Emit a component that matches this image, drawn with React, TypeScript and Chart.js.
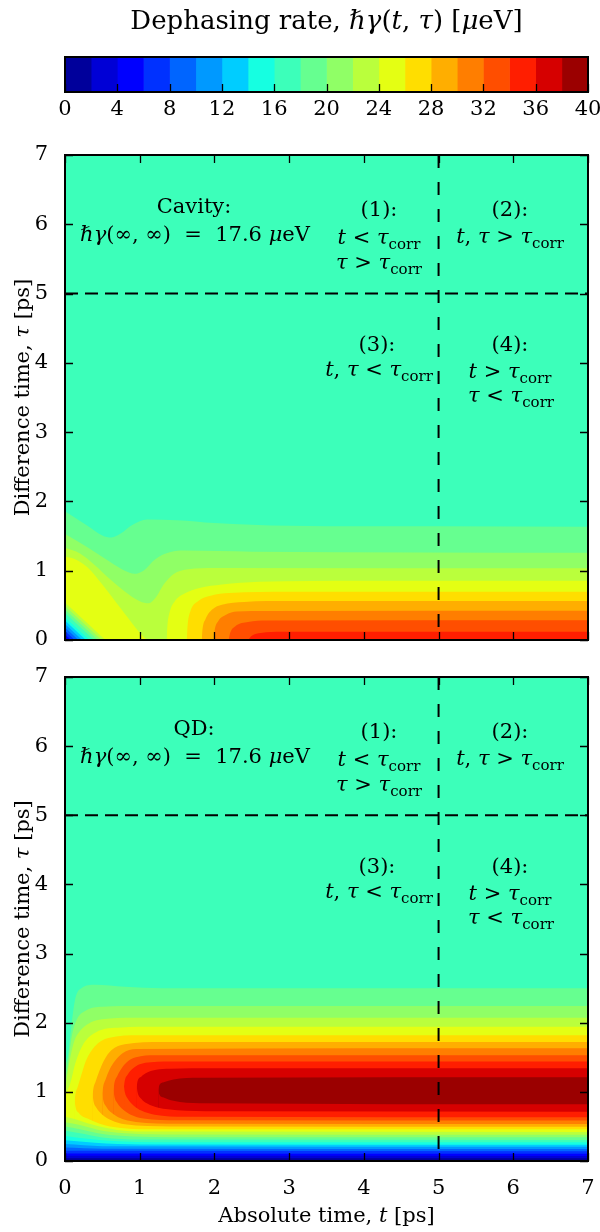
import React, { useEffect, useRef } from 'react';
import { Chart, registerables } from 'chart.js';

Chart.register(...registerables);

type Pt = [number, number];

const FONT = '"DejaVu Serif", "Liberation Serif", serif';

// ---------------- data ----------------
// contour levels of the dephasing rate (µeV)
const levels = [0, 2, 4, 6, 8, 10, 12, 14, 16, 18, 20, 22, 24, 26, 28, 30, 32, 34, 36, 38, 40];
const colorbarTicks = [0, 4, 8, 12, 16, 20, 24, 28, 32, 36, 40];
const timeTicks = [0, 1, 2, 3, 4, 5, 6, 7];
const tauTicks = [0, 1, 2, 3, 4, 5, 6, 7];
const tauCorr = 5;
const gammaInfinity = 17.6;

// Cavity: contour lines (t, tau) bounding the region with value >= level
const cavUp18: Pt[] = [[0, 1.86], [0.3, 1.65], [0.5, 1.51], [0.62, 1.48], [0.75, 1.54], [0.9, 1.66], [1.1, 1.74], [1.5, 1.73], [2, 1.69], [3, 1.65], [5, 1.64], [7, 1.635]];
const cavUp20: Pt[] = [[0, 1.53], [0.3, 1.34], [0.6, 1.13], [0.8, 1.0], [0.93, 0.955], [1.05, 1.0], [1.2, 1.16], [1.35, 1.25], [1.6, 1.29], [2.5, 1.275], [7, 1.26]];
const cavUp22: Pt[] = [[0, 1.33], [0.2, 1.25], [0.4, 1.08], [0.6, 0.88], [0.8, 0.7], [1.0, 0.56], [1.12, 0.53], [1.22, 0.62], [1.32, 0.8], [1.45, 0.95], [1.65, 1.02], [2, 1.04], [7, 1.034]];
const cavUp24a: Pt[] = [[0, 1.2], [0.15, 1.16], [0.3, 1.05], [0.5, 0.8], [0.75, 0.45], [0.95, 0.17], [1.04, 0.06], [1.1, 0]];
const cavUp24b: Pt[] = [[1.36, 0], [1.37, 0.2], [1.4, 0.4], [1.47, 0.56], [1.6, 0.67], [1.8, 0.75], [2.1, 0.8], [2.6, 0.84], [4, 0.855], [7, 0.856]];
const cavUp26: Pt[] = [[1.63, 0], [1.64, 0.2], [1.68, 0.42], [1.78, 0.56], [1.95, 0.64], [2.2, 0.68], [3, 0.695], [7, 0.697]];
const cavUp28: Pt[] = [[1.83, 0], [1.84, 0.15], [1.88, 0.3], [1.97, 0.44], [2.1, 0.51], [2.4, 0.55], [3, 0.562], [7, 0.563]];
const cavUp30: Pt[] = [[1.99, 0], [2.0, 0.12], [2.05, 0.27], [2.15, 0.36], [2.3, 0.41], [2.7, 0.42], [7, 0.423]];
const cavUp32: Pt[] = [[2.19, 0], [2.21, 0.1], [2.28, 0.2], [2.45, 0.26], [2.7, 0.28], [7, 0.284]];
const cavUp34: Pt[] = [[2.45, 0], [2.5, 0.06], [2.62, 0.1], [2.9, 0.118], [7, 0.12]];
// Cavity: corner fan, level and where its straight contour meets both axes (ps)
const cavFanLevels = [24, 22, 20, 18, 16, 14, 12, 10, 8, 6, 4];
const cavFanReach = [0.54, 0.49, 0.44, 0.39, 0.33, 0.28, 0.23, 0.18, 0.13, 0.08, 0.03];

// QD: upper branches (region below them has value >= level)
const qdUp18: Pt[] = [[0, 1.38], [0.04, 1.52], [0.09, 2.0], [0.14, 2.36], [0.22, 2.5], [0.4, 2.55], [0.8, 2.52], [1.3, 2.5], [7, 2.5]];
const qdUp20: Pt[] = [[0, 1.17], [0.04, 1.4], [0.09, 1.8], [0.16, 2.05], [0.27, 2.17], [0.5, 2.23], [1.0, 2.24], [7, 2.24]];
const qdUp22: Pt[] = [[0, 1.02], [0.05, 1.38], [0.12, 1.72], [0.2, 1.88], [0.32, 1.99], [0.6, 2.06], [1.0, 2.07], [7, 2.07]];
const qdUp24: Pt[] = [[0, 0.95], [0.07, 1.12], [0.14, 1.42], [0.25, 1.7], [0.41, 1.86], [0.75, 1.93], [1.2, 1.94], [7, 1.94]];
const qdUp26: Pt[] = [[0.13, 0.88], [0.14, 0.97], [0.17, 1.07], [0.22, 1.25], [0.28, 1.45], [0.4, 1.66], [0.58, 1.78], [1.0, 1.82], [7, 1.82]];
const qdUp28: Pt[] = [[0.37, 0.96], [0.38, 1.05], [0.41, 1.15], [0.46, 1.3], [0.52, 1.45], [0.62, 1.6], [0.8, 1.69], [1.3, 1.72], [7, 1.72]];
const qdUp30: Pt[] = [[0.5, 0.98], [0.51, 1.07], [0.54, 1.17], [0.6, 1.33], [0.67, 1.45], [0.77, 1.56], [0.95, 1.62], [7, 1.63]];
const qdUp32: Pt[] = [[0.65, 1.03], [0.66, 1.12], [0.7, 1.23], [0.77, 1.36], [0.85, 1.45], [0.95, 1.5], [1.2, 1.53], [7, 1.53]];
const qdUp34: Pt[] = [[0.79, 1.08], [0.8, 1.16], [0.84, 1.25], [0.9, 1.33], [1.0, 1.4], [1.15, 1.43], [1.5, 1.44], [7, 1.44]];
const qdUp36: Pt[] = [[0.96, 1.08], [0.97, 1.15], [1.02, 1.22], [1.1, 1.28], [1.22, 1.32], [1.4, 1.335], [2, 1.34], [7, 1.34]];
const qdUp38: Pt[] = [[1.25, 1.03], [1.26, 1.09], [1.32, 1.14], [1.45, 1.18], [1.8, 1.205], [7, 1.21]];
// QD: lower branches (region below them has value < level)
const qdLo38: Pt[] = [[1.25, 1.03], [1.26, 0.97], [1.32, 0.92], [1.45, 0.87], [1.8, 0.835], [7, 0.82]];
const qdLo36: Pt[] = [[0.96, 1.08], [0.97, 1.0], [1.02, 0.9], [1.1, 0.83], [1.25, 0.77], [1.5, 0.735], [2, 0.72], [7, 0.714]];
const qdLo34: Pt[] = [[0.79, 1.08], [0.8, 1.0], [0.84, 0.9], [0.92, 0.8], [1.02, 0.73], [1.2, 0.67], [1.6, 0.64], [7, 0.632]];
const qdLo32: Pt[] = [[0.65, 1.03], [0.66, 0.94], [0.7, 0.84], [0.78, 0.74], [0.88, 0.67], [1.05, 0.615], [1.5, 0.59], [7, 0.584]];
const qdLo30: Pt[] = [[0.5, 0.98], [0.51, 0.89], [0.55, 0.79], [0.62, 0.7], [0.72, 0.63], [0.95, 0.565], [1.5, 0.54], [7, 0.535]];
const qdLo28: Pt[] = [[0.37, 0.96], [0.38, 0.87], [0.42, 0.77], [0.5, 0.67], [0.62, 0.59], [0.8, 0.53], [1.4, 0.5], [7, 0.497]];
const qdLo26: Pt[] = [[0.13, 0.88], [0.14, 0.79], [0.18, 0.7], [0.33, 0.6], [0.6, 0.5], [1.2, 0.46], [7, 0.458]];
const qdLo24: Pt[] = [[0, 0.64], [0.15, 0.6], [0.35, 0.53], [0.7, 0.45], [1.2, 0.425], [7, 0.419]];
const qdLo22: Pt[] = [[0, 0.56], [0.2, 0.52], [0.45, 0.45], [0.8, 0.4], [1.3, 0.385], [7, 0.381]];
const qdLo20: Pt[] = [[0, 0.5], [0.2, 0.46], [0.5, 0.39], [0.9, 0.355], [1.4, 0.345], [7, 0.342]];
const qdLo18: Pt[] = [[0, 0.44], [0.2, 0.4], [0.5, 0.34], [1.0, 0.31], [7, 0.304]];
const qdLo16: Pt[] = [[0, 0.36], [0.3, 0.32], [0.7, 0.285], [1.2, 0.272], [7, 0.27]];
const qdLo14: Pt[] = [[0, 0.3], [0.4, 0.265], [1.0, 0.24], [7, 0.236]];
const qdLo12: Pt[] = [[0, 0.245], [0.5, 0.215], [7, 0.207]];
const qdLo10: Pt[] = [[0, 0.195], [0.5, 0.178], [7, 0.174]];
const qdLo8: Pt[] = [[0, 0.15], [7, 0.14]];
const qdLo6: Pt[] = [[0, 0.11], [7, 0.106]];
const qdLo4: Pt[] = [[0, 0.075], [7, 0.072]];
const qdLo2: Pt[] = [[0, 0.04], [7, 0.039]];

// ---------------- colour map (matplotlib jet) ----------------
const JET_R: Pt[] = [[0, 0], [0.35, 0], [0.66, 1], [0.89, 1], [1, 0.5]];
const JET_G: Pt[] = [[0, 0], [0.125, 0], [0.375, 1], [0.64, 1], [0.91, 0], [1, 0]];
const JET_B: Pt[] = [[0, 0.5], [0.11, 1], [0.34, 1], [0.65, 0], [1, 0]];
function chan(p: Pt[], v: number) {
  for (let i = 1; i < p.length; i++) {
    if (v <= p[i][0]) {
      const [x0, y0] = p[i - 1];
      const [x1, y1] = p[i];
      return y0 + ((v - x0) / (x1 - x0)) * (y1 - y0);
    }
  }
  return p[p.length - 1][1];
}
function jet(x: number) {
  const i = Math.min(255, Math.max(0, Math.floor(x * 256)));
  const v = i / 255;
  const c = (p: Pt[]) => Math.round(255 * chan(p, v));
  return `rgb(${c(JET_R)},${c(JET_G)},${c(JET_B)})`;
}
const vMin = levels[0];
const vMax = levels[levels.length - 1];
function bandColor(k: number) {
  const mid = (levels[k] + levels[k + 1]) / 2;
  return jet((mid - vMin) / (vMax - vMin));
}
function bandOf(v: number) {
  let k = 0;
  while (k < levels.length - 2 && v >= levels[k + 1]) k++;
  return k;
}

// ---------------- rich text ----------------
type Seg = { s: string; i?: boolean; sub?: boolean };
const N = (s: string): Seg => ({ s });
const I = (s: string): Seg => ({ s, i: true });
const S = (s: string): Seg => ({ s, sub: true });

function drawRich(ctx: CanvasRenderingContext2D, segs: Seg[], x: number, y: number, size: number, align: string = 'center') {
  const fontOf = (g: Seg) => (g.sub ? `${Math.round(size * 0.7)}px ${FONT}` : `${g.i ? 'italic ' : ''}${size}px ${FONT}`);
  let total = 0;
  const ws = segs.map((g) => {
    ctx.font = fontOf(g);
    const w = ctx.measureText(g.s).width;
    total += w;
    return w;
  });
  let cx = align === 'center' ? x - total / 2 : align === 'right' ? x - total : x;
  ctx.textAlign = 'left';
  ctx.textBaseline = 'alphabetic';
  ctx.fillStyle = '#000';
  segs.forEach((g, j) => {
    ctx.font = fontOf(g);
    ctx.fillText(g.s, cx, y + (g.sub ? size * 0.24 : 0));
    cx += ws[j];
  });
}

const TICK_FONT = { family: FONT, size: 21 };

function panelNotes(name: string) {
  const corr = S('corr');
  return [
    { segs: [N(name + ':')], dx: 129, dy: 58 },
    { segs: [I('ℏγ'), N(`(∞, ∞)  =  ${gammaInfinity} `), I('μ'), N('eV')], dx: 130, dy: 86 },
    { segs: [N('(1):')], dx: 314, dy: 61 },
    { segs: [I('t'), N(' < '), I('τ'), corr], dx: 314, dy: 89 },
    { segs: [I('τ'), N(' > '), I('τ'), corr], dx: 314, dy: 114 },
    { segs: [N('(2):')], dx: 445, dy: 61 },
    { segs: [I('t'), N(', '), I('τ'), N(' > '), I('τ'), corr], dx: 445, dy: 88 },
    { segs: [N('(3):')], dx: 312, dy: 196 },
    { segs: [I('t'), N(', '), I('τ'), N(' < '), I('τ'), corr], dx: 314, dy: 221 },
    { segs: [N('(4):')], dx: 445, dy: 196 },
    { segs: [I('t'), N(' > '), I('τ'), corr], dx: 445, dy: 223 },
    { segs: [I('τ'), N(' < '), I('τ'), corr], dx: 446, dy: 247 },
  ];
}

function area(pts: Pt[], color: string) {
  return {
    type: 'line',
    data: pts.map(([x, y]) => ({ x, y })),
    fill: 'start',
    backgroundColor: color,
    borderColor: 'rgba(0,0,0,0)',
    borderWidth: 1,
    pointRadius: 0,
    cubicInterpolationMode: 'monotone',
  };
}

const noPad = (s: any) => {
  s.paddingLeft = 0;
  s.paddingRight = 0;
  s.paddingTop = 0;
  s.paddingBottom = 0;
};

function panelConfig(p: {
  name: string;
  upper: [number, Pt[]][];
  lower: [number, Pt[]][];
  showX: boolean;
  padTop: number;
  xAxisH: number;
}) {
  const tMax = timeTicks[timeTicks.length - 1];
  const tauMax = tauTicks[tauTicks.length - 1];
  const ds: any[] = [];
  ds.push(area([[0, tauMax], [tMax, tauMax]], bandColor(bandOf(gammaInfinity))));
  p.upper.forEach(([L, pts]) => ds.push(area(pts, bandColor(levels.indexOf(L)))));
  p.lower.forEach(([L, pts]) => ds.push(area(pts, bandColor(levels.indexOf(L) - 1))));
  ds.push({
    type: 'line',
    data: [{ x: 0, y: tauCorr }, { x: tMax, y: tauCorr }],
    borderColor: '#000', borderWidth: 2, borderDash: [13, 7], fill: false, pointRadius: 0, tension: 0,
  });
  ds.push({
    type: 'line',
    data: [{ x: tauCorr, y: tauMax }, { x: tauCorr, y: 0 }],
    borderColor: '#000', borderWidth: 2, borderDash: [13, 14], fill: false, pointRadius: 0, tension: 0,
  });
  ds.forEach((d, i) => (d.order = -i));

  const notes = panelNotes(p.name);
  const overlay = {
    id: 'overlay_' + p.name,
    afterDatasetsDraw(chart: any) {
      const { ctx, chartArea: a, scales } = chart;
      const x = scales.x;
      const y = scales.y;
      ctx.save();
      ctx.strokeStyle = '#000';
      ctx.lineWidth = 1.3;
      ctx.beginPath();
      for (const v of timeTicks) {
        const px = Math.round(x.getPixelForValue(v)) + 0.5;
        ctx.moveTo(px, a.bottom); ctx.lineTo(px, a.bottom - 8);
        ctx.moveTo(px, a.top); ctx.lineTo(px, a.top + 8);
      }
      for (const v of tauTicks) {
        const py = Math.round(y.getPixelForValue(v)) + 0.5;
        ctx.moveTo(a.left, py); ctx.lineTo(a.left + 8, py);
        ctx.moveTo(a.right, py); ctx.lineTo(a.right - 8, py);
      }
      ctx.stroke();
      ctx.lineWidth = 2;
      ctx.strokeRect(a.left, a.top, a.right - a.left, a.bottom - a.top);
      for (const n of notes) drawRich(ctx, n.segs, a.left + n.dx, a.top + n.dy, 21);
      // y title
      ctx.translate(22, (a.top + a.bottom) / 2);
      ctx.rotate(-Math.PI / 2);
      drawRich(ctx, [N('Difference time, '), I('τ'), N(' [ps]')], 0, 7, 21);
      ctx.setTransform(1, 0, 0, 1, 0, 0);
      if (p.showX) {
        drawRich(ctx, [N('Absolute time, '), I('t'), N(' [ps]')], (a.left + a.right) / 2, a.bottom + 61, 21);
      }
      ctx.restore();
    },
  };

  return {
    type: 'line',
    data: { datasets: ds },
    options: {
      responsive: false,
      animation: false,
      devicePixelRatio: 1,
      events: [],
      layout: { padding: { left: 0, right: 12, top: p.padTop, bottom: 0 } },
      plugins: { legend: { display: false }, tooltip: { enabled: false } },
      scales: {
        x: {
          type: 'linear', min: 0, max: tMax,
          afterBuildTicks: (s: any) => { s.ticks = timeTicks.map((v) => ({ value: v })); },
          ticks: { display: p.showX, font: TICK_FONT, color: '#000', padding: 7, maxRotation: 0, autoSkip: false },
          grid: { display: false }, border: { display: false },
          afterFit: (s: any) => { s.height = p.xAxisH; noPad(s); },
        },
        y: {
          type: 'linear', min: 0, max: tauMax,
          afterBuildTicks: (s: any) => { s.ticks = tauTicks.map((v) => ({ value: v })); },
          ticks: { font: TICK_FONT, color: '#000', padding: 9, autoSkip: false },
          grid: { display: false }, border: { display: false },
          afterFit: (s: any) => { s.width = 65; noPad(s); },
        },
      },
    },
    plugins: [overlay],
  };
}

function colorbarConfig() {
  const cb = {
    id: 'cbOverlay',
    afterDraw(chart: any) {
      const { ctx, chartArea: a, scales } = chart;
      ctx.save();
      ctx.strokeStyle = '#000';
      ctx.lineWidth = 1.3;
      ctx.beginPath();
      for (const v of colorbarTicks) {
        const px = Math.round(scales.x.getPixelForValue(v)) + 0.5;
        ctx.moveTo(px, a.bottom); ctx.lineTo(px, a.bottom - 8);
      }
      ctx.stroke();
      ctx.lineWidth = 2;
      ctx.strokeRect(a.left, a.top, a.right - a.left, a.bottom - a.top);
      drawRich(ctx, [N('Dephasing rate, '), I('ℏγ'), N('('), I('t'), N(', '), I('τ'), N(') ['), I('μ'), N('eV]')], (a.left + a.right) / 2, 29, 26);
      ctx.restore();
    },
  };
  return {
    type: 'bar',
    data: {
      labels: [''],
      datasets: levels.slice(1).map((hi, k) => ({
        data: [hi - levels[k]],
        backgroundColor: bandColor(k),
        borderWidth: 0,
        barPercentage: 1,
        categoryPercentage: 1,
      })),
    },
    options: {
      indexAxis: 'y',
      responsive: false,
      animation: false,
      devicePixelRatio: 1,
      events: [],
      layout: { padding: { left: 65, right: 12, top: 57, bottom: 0 } },
      plugins: { legend: { display: false }, tooltip: { enabled: false } },
      scales: {
        x: {
          type: 'linear', stacked: true, min: vMin, max: vMax,
          afterBuildTicks: (s: any) => { s.ticks = colorbarTicks.map((v) => ({ value: v })); },
          ticks: { font: TICK_FONT, color: '#000', padding: -3, maxRotation: 0, autoSkip: false },
          grid: { display: false }, border: { display: false },
          afterFit: (s: any) => { s.height = 38; noPad(s); },
        },
        y: { stacked: true, display: false },
      },
    },
    plugins: [cb],
  };
}

export default function App() {
  const cbRef = useRef<HTMLCanvasElement>(null);
  const topRef = useRef<HTMLCanvasElement>(null);
  const botRef = useRef<HTMLCanvasElement>(null);

  useEffect(() => {
    const charts: Chart[] = [];
    charts.push(new Chart(cbRef.current as any, colorbarConfig() as any));
    charts.push(
      new Chart(topRef.current as any, panelConfig({
        name: 'Cavity',
        upper: [
          [18, cavUp18], [20, cavUp20], [22, cavUp22], [24, cavUp24a], [24, cavUp24b],
          [26, cavUp26], [28, cavUp28], [30, cavUp30], [32, cavUp32], [34, cavUp34],
        ],
        lower: cavFanLevels.map((L, i) => [L, [[0, cavFanReach[i]], [cavFanReach[i], 0]]] as [number, Pt[]]),
        showX: false,
        padTop: 15,
        xAxisH: 10,
      }) as any)
    );
    charts.push(
      new Chart(botRef.current as any, panelConfig({
        name: 'QD',
        upper: [
          [18, qdUp18], [20, qdUp20], [22, qdUp22], [24, qdUp24], [26, qdUp26], [28, qdUp28],
          [30, qdUp30], [32, qdUp32], [34, qdUp34], [36, qdUp36], [38, qdUp38],
        ],
        lower: [
          [38, qdLo38], [36, qdLo36], [34, qdLo34], [32, qdLo32], [30, qdLo30], [28, qdLo28],
          [26, qdLo26], [24, qdLo24], [22, qdLo22], [20, qdLo20], [18, qdLo18], [16, qdLo16],
          [14, qdLo14], [12, qdLo12], [10, qdLo10], [8, qdLo8], [6, qdLo6], [4, qdLo4], [2, qdLo2],
        ],
        showX: true,
        padTop: 27,
        xAxisH: 71,
      }) as any)
    );
    return () => charts.forEach((c) => c.destroy());
  }, []);

  return (
    <div style={{ position: 'absolute', left: 0, top: 0, width: 600, height: 1232, background: '#fff' }}>
      <canvas ref={cbRef} width={600} height={130} style={{ position: 'absolute', left: 0, top: 0, width: 600, height: 130 }} />
      <canvas ref={topRef} width={600} height={510} style={{ position: 'absolute', left: 0, top: 140, width: 600, height: 510 }} />
      <canvas ref={botRef} width={600} height={582} style={{ position: 'absolute', left: 0, top: 650, width: 600, height: 582 }} />
    </div>
  );
}
